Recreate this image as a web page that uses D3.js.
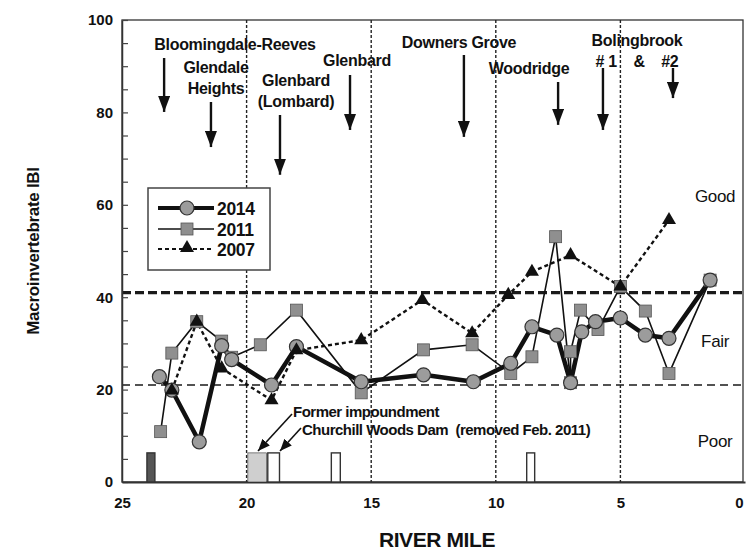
<!DOCTYPE html>
<html>
<head>
<meta charset="utf-8">
<script src="https://cdn.jsdelivr.net/npm/d3@7/dist/d3.min.js"></script>
<style>
  html, body { margin: 0; padding: 0; background: #fff; }
  svg { display: block; font-family: "Liberation Sans", Arial, sans-serif; }
</style>
</head>
<body>
<svg id="chart" width="746" height="552"></svg>
<script>
// Macroinvertebrate IBI along the river, three survey years
const mile2014 = [23.5, 23.0, 21.9, 21.0, 20.6, 19.0, 18.0, 15.4, 12.9, 10.9, 9.4, 8.55, 7.55, 7.0, 6.55, 6.0, 5.0, 4.0, 3.05, 1.4];
const ibi2014  = [22.8, 19.9, 8.7, 29.5, 26.5, 21.0, 29.3, 21.7, 23.2, 21.7, 25.7, 33.6, 31.8, 21.5, 32.5, 34.7, 35.5, 31.8, 31.1, 43.7];

const mile2011 = [23.45, 23.0, 22.0, 21.0, 20.6, 19.45, 18.0, 15.4, 12.9, 10.95, 9.4, 8.55, 7.6, 7.0, 7.0, 6.6, 5.9, 5.0, 4.0, 3.05, 1.4];
const ibi2011  = [10.9, 27.9, 34.7, 30.5, 27.0, 29.7, 37.2, 19.3, 28.6, 29.7, 23.5, 27.1, 53.1, 21.5, 28.2, 37.2, 33.0, 42.3, 37.0, 23.5, 43.7];

const mile2007 = [23.0, 22.0, 21.0, 19.0, 18.0, 15.4, 12.95, 10.95, 9.5, 8.55, 7.0, 5.0, 3.05];
const ibi2007  = [19.8, 34.7, 24.6, 17.7, 28.5, 30.7, 39.4, 32.2, 40.5, 45.5, 49.1, 42.3, 56.7];

const seriesNames = ["2014", "2011", "2007"];

// Condition class thresholds and labels
const thresholds = [41, 21];
const classNames = ["Good", "Fair", "Poor"];
const classValues = [60.6, 29.2, 7.6];

// Municipal outfalls: label lines, arrow river miles and arrow tip values
const outfallLabels = [
  ["Bloomingdale-Reeves"], ["Glendale", "Heights"], ["Glenbard", "(Lombard)"], ["Glenbard"],
  ["Downers Grove"], ["Woodridge"], ["Bolingbrook", "# 1    &    #2"]
];
const arrowMiles = [23.31, 21.43, 18.66, 15.85, 11.28, 7.5, 5.7, 2.89];
const arrowTip = [80.1, 72.5, 66.5, 76.2, 74.7, 77.3, 76.2, 83.1];

// Dams and impoundments along the bed
const damStart = [24.0, 19.95, 19.15, 16.6, 8.76];
const damEnd   = [23.68, 19.2, 18.68, 16.24, 8.44];
const damKind  = ["dark", "pool", "open", "open", "open"];

const xTicks = [25, 20, 15, 10, 5, 0];
const yTicks = d3.range(0, 101, 5);
const zoneLines = [20, 15, 10, 5];

const svg = d3.select("#chart");
const plotLeft = 122, plotRight = 745, plotTop = 20, plotBottom = 482, frameRight = 743;

const x = d3.scaleLinear().domain([25, 0]).range([plotLeft, plotRight]);
const y = d3.scaleLinear().domain([0, 100]).range([plotBottom, plotTop]);

// Frame
svg.append("rect")
  .attr("x", plotLeft).attr("y", plotTop)
  .attr("width", frameRight - plotLeft).attr("height", plotBottom - plotTop)
  .attr("fill", "none").attr("stroke", "#333").attr("stroke-width", 1.3);

// Vertical reach separators
svg.append("g").selectAll("line").data(zoneLines).join("line")
  .attr("x1", d => x(d)).attr("x2", d => x(d))
  .attr("y1", plotTop).attr("y2", plotBottom)
  .attr("stroke", "#222").attr("stroke-width", 1.4)
  .attr("stroke-dasharray", "3,2");

// Threshold lines
svg.append("line")
  .attr("x1", plotLeft).attr("x2", 746)
  .attr("y1", y(thresholds[0])).attr("y2", y(thresholds[0]))
  .attr("stroke", "#1a1a1a").attr("stroke-width", 3.2)
  .attr("stroke-dasharray", "9,4");
svg.append("line")
  .attr("x1", plotLeft).attr("x2", frameRight)
  .attr("y1", y(thresholds[1])).attr("y2", y(thresholds[1]))
  .attr("stroke", "#1a1a1a").attr("stroke-width", 1.6)
  .attr("stroke-dasharray", "8,5");

// Axes
const yAxis = d3.axisLeft(y).tickValues(yTicks).tickSizeInner(-6).tickSizeOuter(0).tickPadding(9)
  .tickFormat(d => d % 20 === 0 ? d : "");
const gy = svg.append("g").attr("transform", `translate(${plotLeft},0)`).call(yAxis);
gy.select(".domain").attr("stroke", "#333").attr("stroke-width", 1.5);
gy.selectAll(".tick line").attr("stroke", "#444").attr("stroke-width", 1.2);
gy.selectAll("text").attr("font-size", 15).attr("font-weight", "bold").attr("fill", "#111");

const xAxis = d3.axisBottom(x).tickValues(xTicks).tickSize(0).tickPadding(15).tickFormat(d3.format("d"));
const gx = svg.append("g").attr("transform", `translate(0,${plotBottom})`).call(xAxis);
gx.select(".domain").attr("stroke", "#333").attr("stroke-width", 2);
gx.selectAll("text").attr("font-size", 15).attr("font-weight", "bold").attr("fill", "#111");
gx.selectAll(".tick").filter(d => d === 0).select("text").attr("dx", -6);

// Axis titles
svg.append("text")
  .attr("transform", `translate(39,${(plotTop + plotBottom) / 2}) rotate(-90)`)
  .attr("text-anchor", "middle").attr("font-size", 17).attr("font-weight", "bold")
  .attr("fill", "#111").attr("letter-spacing", -0.3)
  .text("Macroinvertebrate IBI");
svg.append("text")
  .attr("x", 437).attr("y", 547)
  .attr("text-anchor", "middle").attr("font-size", 21).attr("font-weight", "bold")
  .attr("fill", "#111").attr("letter-spacing", -0.4)
  .text("RIVER MILE");

// Condition class labels
svg.append("g").selectAll("text").data(classNames).join("text")
  .attr("x", x(1.2)).attr("y", (d, i) => y(classValues[i]))
  .attr("text-anchor", "middle").attr("font-size", 17).attr("fill", "#111")
  .attr("letter-spacing", -0.3)
  .text(d => d);

// Dam / impoundment markers
const damH = 6.3;
svg.append("g").selectAll("rect").data(damStart).join("rect")
  .attr("x", d => x(d))
  .attr("y", y(damH))
  .attr("width", (d, i) => x(damEnd[i]) - x(d))
  .attr("height", y(0) - y(damH))
  .attr("fill", (d, i) => damKind[i] === "dark" ? "#555" : damKind[i] === "pool" ? "#cfcfcf" : "#fff")
  .attr("stroke", "#333")
  .attr("stroke-width", (d, i) => damKind[i] === "pool" ? 0.6 : 1.4);

// Arrow marker definitions
const defs = svg.append("defs");
defs.append("marker").attr("id", "head").attr("viewBox", "0 0 16 12")
  .attr("refX", 16).attr("refY", 6).attr("markerWidth", 16).attr("markerHeight", 12)
  .attr("markerUnits", "userSpaceOnUse").attr("orient", "auto")
  .append("path").attr("d", "M0,0 L16,6 L0,12 Z").attr("fill", "#111");
defs.append("marker").attr("id", "headSmall").attr("viewBox", "0 0 12 10")
  .attr("refX", 12).attr("refY", 5).attr("markerWidth", 12).attr("markerHeight", 10)
  .attr("markerUnits", "userSpaceOnUse").attr("orient", "auto")
  .append("path").attr("d", "M0,0 L12,5 L0,10 Z").attr("fill", "#111");

// Outfall labels with arrows
const labelPos = [[235, 50], [216, 73], [296, 86], [357, 66], [459, 48], [529, 74], [637, 46]];
const lab = svg.append("g").attr("font-size", 16).attr("font-weight", "bold").attr("fill", "#111")
  .attr("text-anchor", "middle").attr("letter-spacing", -0.3);
outfallLabels.forEach((lines, i) => {
  const t = lab.append("text").attr("x", labelPos[i][0]).attr("y", labelPos[i][1])
    .attr("xml:space", "preserve");
  lines.forEach((s, j) => {
    t.append("tspan").attr("x", labelPos[i][0]).attr("dy", j === 0 ? 0 : 20.5).text(s);
  });
});
const arrowTop = [58, 102, 115, 75, 55, 82, 68, 68];
svg.append("g").selectAll("line").data(arrowMiles).join("line")
  .attr("x1", d => x(d)).attr("x2", d => x(d))
  .attr("y1", (d, i) => arrowTop[i]).attr("y2", (d, i) => y(arrowTip[i]))
  .attr("stroke", "#111").attr("stroke-width", 2.4)
  .attr("marker-end", "url(#head)");

// Dam annotations
svg.append("text").attr("x", 293).attr("y", 417)
  .attr("font-size", 15).attr("font-weight", "bold").attr("fill", "#111").attr("letter-spacing", -0.5)
  .text("Former impoundment");
svg.append("text").attr("x", 302).attr("y", 435)
  .attr("font-size", 15).attr("font-weight", "bold").attr("fill", "#111").attr("letter-spacing", -0.5)
  .attr("xml:space", "preserve")
  .text("Churchill Woods Dam  (removed Feb. 2011)");
svg.append("line").attr("x1", 292).attr("y1", 414).attr("x2", 258).attr("y2", 451)
  .attr("stroke", "#111").attr("stroke-width", 1.6).attr("marker-end", "url(#headSmall)");
svg.append("line").attr("x1", 301).attr("y1", 428).attr("x2", 280).attr("y2", 451)
  .attr("stroke", "#111").attr("stroke-width", 1.6).attr("marker-end", "url(#headSmall)");

// Series
const line = d3.line().x(d => x(d[0])).y(d => y(d[1]));
const pts2014 = mile2014.map((m, i) => [m, ibi2014[i]]);
const pts2011 = mile2011.map((m, i) => [m, ibi2011[i]]);
const pts2007 = mile2007.map((m, i) => [m, ibi2007[i]]);

svg.append("path").datum(pts2007).attr("d", line)
  .attr("fill", "none").attr("stroke", "#111").attr("stroke-width", 2.4)
  .attr("stroke-dasharray", "4,3");
svg.append("path").datum(pts2011).attr("d", line)
  .attr("fill", "none").attr("stroke", "#111").attr("stroke-width", 1.6);
svg.append("path").datum(pts2014).attr("d", line)
  .attr("fill", "none").attr("stroke", "#111").attr("stroke-width", 4.5)
  .attr("stroke-linejoin", "round");

const sq = 12;
svg.append("g").selectAll("rect").data(pts2011).join("rect")
  .attr("x", d => x(d[0]) - sq / 2).attr("y", d => y(d[1]) - sq / 2)
  .attr("width", sq).attr("height", sq)
  .attr("fill", "#8f8f8f").attr("stroke", "#555").attr("stroke-width", 0.8);
svg.append("g").selectAll("circle").data(pts2014).join("circle")
  .attr("cx", d => x(d[0])).attr("cy", d => y(d[1])).attr("r", 7)
  .attr("fill", "#9c9c9c").attr("stroke", "#333").attr("stroke-width", 1.2);
const tri = d3.symbol().type(d3.symbolTriangle).size(85);
svg.append("g").selectAll("path").data(pts2007).join("path")
  .attr("transform", d => `translate(${x(d[0])},${y(d[1])})`)
  .attr("d", tri).attr("fill", "#111");

// Legend
const lg = svg.append("g").attr("transform", "translate(148,188)");
lg.append("rect").attr("width", 122).attr("height", 82)
  .attr("fill", "#fff").attr("stroke", "#444").attr("stroke-width", 1.5);
const legRows = [20, 41, 61];
seriesNames.forEach((name, i) => {
  const ry = legRows[i];
  lg.append("line").attr("x1", 10).attr("x2", 66).attr("y1", ry).attr("y2", ry)
    .attr("stroke", "#111")
    .attr("stroke-width", i === 0 ? 4 : i === 1 ? 1.6 : 2)
    .attr("stroke-dasharray", i === 2 ? "4,3" : null);
  if (i === 0) {
    lg.append("circle").attr("cx", 39).attr("cy", ry).attr("r", 7)
      .attr("fill", "#9c9c9c").attr("stroke", "#333").attr("stroke-width", 1.2);
  } else if (i === 1) {
    lg.append("rect").attr("x", 39 - sq / 2).attr("y", ry - sq / 2).attr("width", sq).attr("height", sq)
      .attr("fill", "#8f8f8f").attr("stroke", "#555").attr("stroke-width", 0.8);
  } else {
    lg.append("path").attr("transform", `translate(39,${ry - 1})`).attr("d", tri).attr("fill", "#111");
  }
  lg.append("text").attr("x", 69).attr("y", ry + 6.5)
    .attr("font-size", 17.5).attr("font-weight", "bold").attr("fill", "#111")
    .attr("letter-spacing", -0.3)
    .text(name);
});
</script>
</body>
</html>
